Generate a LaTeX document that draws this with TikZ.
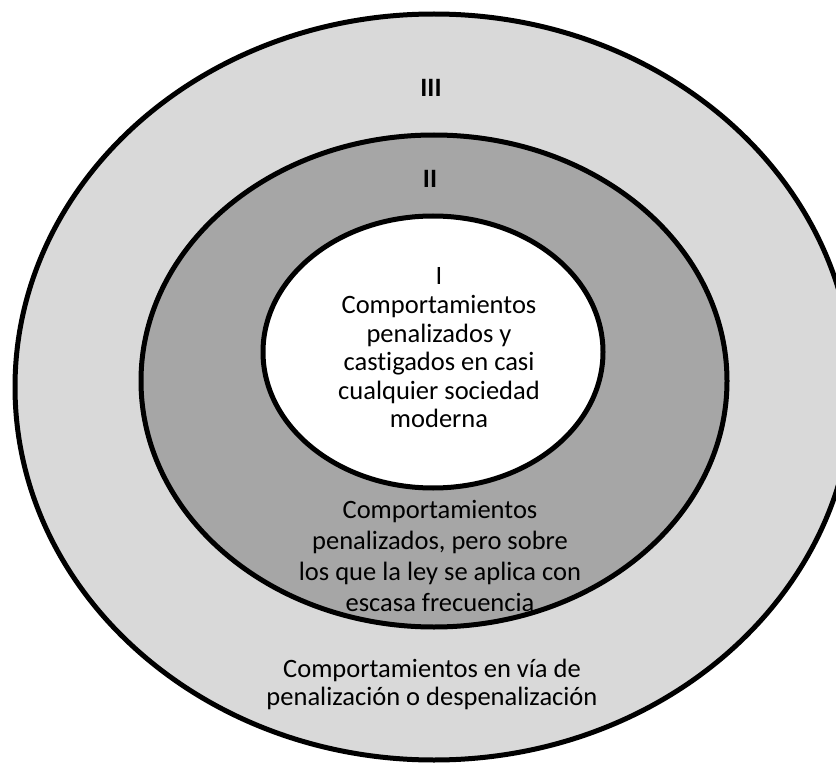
\documentclass[tikz,border=0pt]{standalone}
\usepackage{fontspec}
\setmainfont[Ligatures={NoCommon}]{Carlito}
\definecolor{outergray}{HTML}{D9D9D9}
\definecolor{middlegray}{HTML}{A6A6A6}
\begin{document}
\begin{tikzpicture}[x=1pt,y=-1pt,
  ring/.style={draw=black,line width=5pt},
  innertxt/.style={font=\fontsize{26.5}{28.6}\selectfont,align=center,inner sep=0pt},
  middletxt/.style={font=\fontsize{26.5}{31}\selectfont,align=center,inner sep=0pt},
  outertxt/.style={font=\fontsize{26.5}{28}\selectfont,align=center,inner sep=0pt},
  roman/.style={font=\fontsize{26.5}{28}\selectfont\bfseries,inner sep=0pt}]
\useasboundingbox (0,0) rectangle (836,765);
\clip (0,0) rectangle (836,765);
\fill[white] (0,0) rectangle (836,765);
% rings
\draw[ring,fill=outergray] (434,387) ellipse [x radius=419pt,y radius=373pt];
\draw[ring,fill=middlegray] (434,381) ellipse [x radius=293pt,y radius=246pt];
\draw[ring,fill=white] (433,352) ellipse [x radius=170pt,y radius=136pt];
% labels
\node[roman] (nIII) at (431,88) {III};
\node[roman] (nII) at (430,179) {II};
\node[innertxt] (tI) at (439,348) {I\\Comportamientos\\penalizados y\\castigados en casi\\cualquier sociedad\\moderna};
\node[middletxt] (tII) at (440,556) {Comportamientos\\penalizados, pero sobre\\los que la ley se aplica con\\escasa frecuencia};
\node[outertxt] (tIII) at (432,684) {Comportamientos en vía de\\penalización o despenalización};
\end{tikzpicture}
\end{document}
